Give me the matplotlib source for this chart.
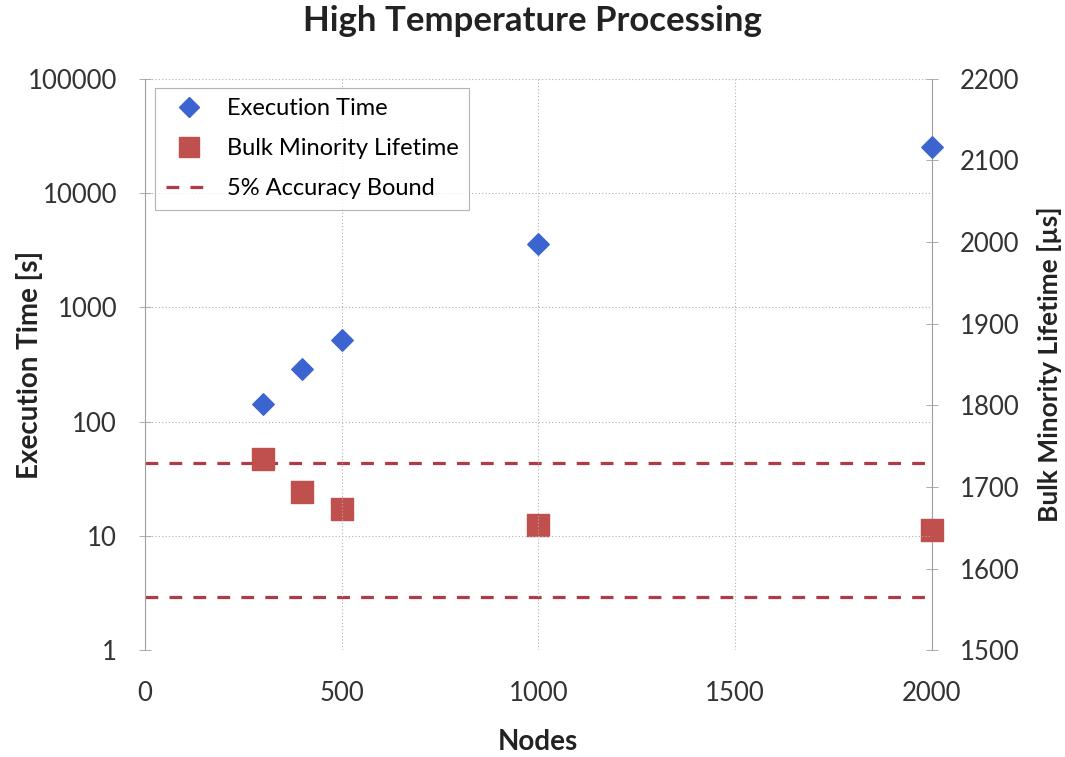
import matplotlib
matplotlib.use("Agg")
import matplotlib.pyplot as plt
from matplotlib.lines import Line2D

plt.rcParams['font.family'] = ['Lato', 'DejaVu Sans']

nodes = [300, 400, 500, 1000, 2000]
exec_time = [142, 289, 518, 3590, 25400]
lifetime = [1734, 1694, 1673, 1653, 1647]
bound_upper = 1729
bound_lower = 1565

fig = plt.figure(figsize=(10.65, 7.57), dpi=100)
ax = fig.add_axes([0.136, 0.141, 0.739, 0.755])
ax2 = ax.twinx()

ax.set_yscale('log')
ax.set_ylim(1, 100000)
ax.set_xlim(0, 2000)
ax.set_xticks([0, 500, 1000, 1500, 2000])
ax.set_yticks([1, 10, 100, 1000, 10000, 100000])
ax.set_yticklabels(['1', '10', '100', '1000', '10000', '100000'])
ax.minorticks_off()
ax2.set_ylim(1500, 2200)
ax2.set_yticks(range(1500, 2201, 100))

grid_kw = dict(color='#b0b0b0', ls=(0, (1, 2)), lw=0.8)
ax.grid(True, axis='both', **grid_kw)
ax.set_axisbelow(True)

# dashed accuracy bounds on the right axis
for b in (bound_upper, bound_lower):
    ax2.axhline(b, color='#b23a48', ls=(0, (4, 3.5)), lw=2.3, zorder=2)
ax2.scatter(nodes, lifetime, marker='s', s=270, color='#c0504d', zorder=3, clip_on=False)
ax.scatter(nodes, exec_time, marker='D', s=120, color='#3c64d0', zorder=4, clip_on=False)
ax.set_zorder(ax2.get_zorder() + 1)
ax.patch.set_visible(False)

for a in (ax, ax2):
    for s in a.spines.values():
        s.set_visible(False)
    a.tick_params(labelsize=18.5, colors='#a0a0a0', labelcolor='#333333',
                  direction='inout', length=8, width=0.6, pad=16)
ax.spines['left'].set_visible(True)
ax.spines['left'].set_color('#a0a0a0')
ax2.spines['right'].set_visible(True)
ax2.spines['right'].set_color('#a0a0a0')
ax.tick_params(axis='x', length=0, pad=22)

ax.set_xlabel('Nodes', fontsize=20, fontweight='bold', labelpad=17, color='#222222')
ax.set_ylabel('Execution Time [s]', fontsize=20, fontweight='bold', color='#222222')
ax2.set_ylabel('Bulk Minority Lifetime [µs]', fontsize=19, fontweight='bold', color='#222222')
ax.yaxis.set_label_coords(-0.13, 0.5)
ax2.yaxis.set_label_coords(1.133, 0.5)
fig.suptitle('High Temperature Processing', fontsize=25, fontweight='bold', y=0.993, color='#222222')

handles = [
    Line2D([], [], marker='D', ls='none', color='#3c64d0', markersize=10),
    Line2D([], [], marker='s', ls='none', color='#c0504d', markersize=14),
    Line2D([], [], color='#b23a48', ls=(0, (4, 3.5)), lw=2.3),
]
labels = ['Execution Time', 'Bulk Minority Lifetime', '5% Accuracy Bound']
leg = ax.legend(handles, labels, loc='upper left', bbox_to_anchor=(0.013, 0.984),
                borderaxespad=0, fontsize=17, frameon=True, fancybox=False,
                edgecolor='#a0a0a0', handlelength=2.0, handletextpad=0.6,
                labelspacing=0.8, borderpad=0.45)
leg.get_frame().set_linewidth(0.8)

fig.savefig('out.png', dpi=100)
